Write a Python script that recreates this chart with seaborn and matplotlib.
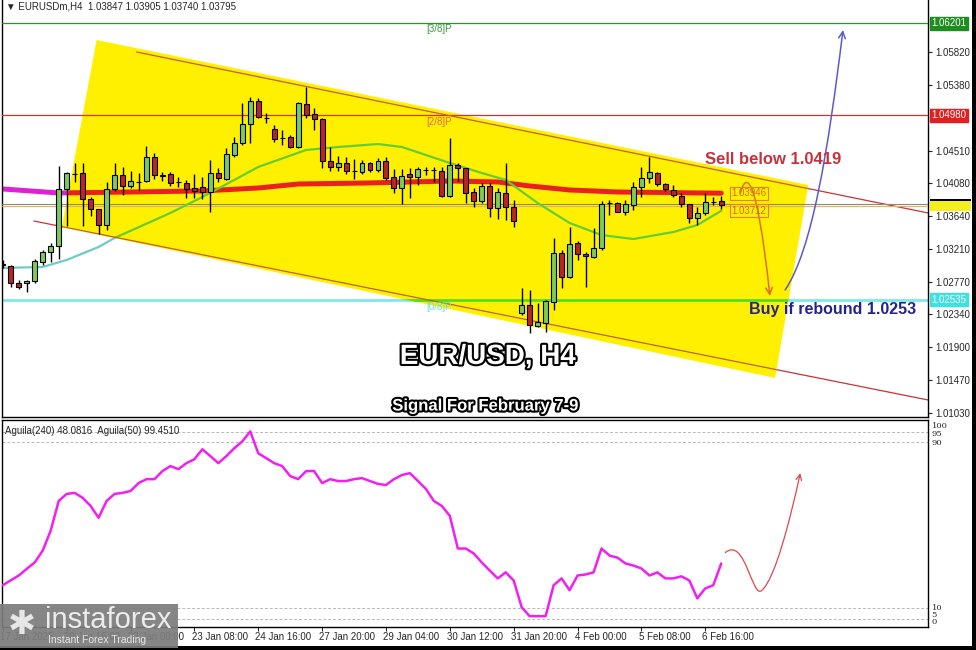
import numpy as np
import pandas as pd
import matplotlib
matplotlib.use("Agg")
import matplotlib.pyplot as plt
import matplotlib.patheffects as pe
from matplotlib.path import Path
from matplotlib.patches import FancyArrowPatch, Polygon, Rectangle
import seaborn as sns

# ---- candles (H4 bars, index 0..90) ----
opens = [1.02994, 1.02980, 1.02755, 1.02755, 1.02781, 1.03033, 1.03166, 1.03246, 1.04002, 1.04201,
         1.04214, 1.03870, 1.03737, 1.03524, 1.04002, 1.04188, 1.04042, 1.04095, 1.04108, 1.04427,
         1.04188, 1.04201, 1.04095, 1.04082, 1.04015, 1.04029, 1.03962, 1.04214, 1.04135, 1.04453,
         1.04612, 1.04865, 1.05170, 1.04944, 1.04798, 1.04679, 1.04692, 1.04559, 1.05130, 1.04997,
         1.04931, 1.04373, 1.04294, 1.04347, 1.04241, 1.04228, 1.04347, 1.04254, 1.04373, 1.04161,
         1.04015, 1.04201, 1.04161, 1.04254, 1.04254, 1.04241, 1.03909, 1.04320, 1.04281, 1.03962,
         1.03843, 1.04042, 1.03750, 1.03949, 1.03763, 1.02357, 1.02463, 1.02184, 1.02224, 1.02503,
         1.03153, 1.02834, 1.03285, 1.03140, 1.03100, 1.03219, 1.03816, 1.03816, 1.03697, 1.03790,
         1.04029, 1.04148, 1.04214, 1.04068, 1.03989, 1.03909, 1.03803, 1.03617, 1.03684, 1.03830,
         1.03847]
highs = [1.03060, 1.02994, 1.02794, 1.02794, 1.03073, 1.03193, 1.03285, 1.04307, 1.04228, 1.04347,
         1.04347, 1.03896, 1.03737, 1.04095, 1.04347, 1.04294, 1.04241, 1.04214, 1.04573, 1.04480,
         1.04228, 1.04228, 1.04161, 1.04122, 1.04201, 1.04161, 1.04387, 1.04281, 1.04546, 1.04692,
         1.05143, 1.05223, 1.05210, 1.05010, 1.04851, 1.04785, 1.04719, 1.05156, 1.05356, 1.05077,
         1.04944, 1.04559, 1.04440, 1.04427, 1.04400, 1.04387, 1.04360, 1.04413, 1.04427, 1.04267,
         1.04267, 1.04281, 1.04294, 1.04294, 1.04294, 1.04294, 1.04679, 1.04347, 1.04281, 1.04015,
         1.04082, 1.04082, 1.04015, 1.04347, 1.03856, 1.02688, 1.02662, 1.02489, 1.02529, 1.03352,
         1.03193, 1.03498, 1.03312, 1.03166, 1.03484, 1.03843, 1.03856, 1.03830, 1.03856, 1.04095,
         1.04294, 1.04427, 1.04228, 1.04082, 1.04055, 1.03949, 1.03803, 1.03763, 1.03949, 1.03896,
         1.03905]
lows = [1.02955, 1.02701, 1.02675, 1.02635, 1.02755, 1.02994, 1.03033, 1.03073, 1.03511, 1.04095,
        1.03511, 1.03644, 1.03405, 1.03458, 1.03976, 1.03923, 1.04015, 1.03989, 1.04095, 1.04135,
        1.04108, 1.04042, 1.04029, 1.03883, 1.03883, 1.03870, 1.03697, 1.04095, 1.04122, 1.04427,
        1.04586, 1.04612, 1.04944, 1.04878, 1.04626, 1.04586, 1.04546, 1.04546, 1.04944, 1.04785,
        1.04281, 1.04241, 1.04241, 1.04201, 1.04135, 1.04201, 1.04228, 1.04228, 1.04122, 1.03949,
        1.03803, 1.03883, 1.04055, 1.04188, 1.04095, 1.03896, 1.03896, 1.04108, 1.03816, 1.03763,
        1.03816, 1.03630, 1.03604, 1.03591, 1.03498, 1.02330, 1.02091, 1.02171, 1.02104, 1.02396,
        1.02688, 1.02821, 1.03060, 1.02701, 1.03086, 1.03193, 1.03657, 1.03690, 1.03657, 1.03723,
        1.03896, 1.04082, 1.04042, 1.03976, 1.03896, 1.03763, 1.03551, 1.03524, 1.03657, 1.03790,
        1.03740]
closes = [1.03000, 1.02755, 1.02701, 1.02781, 1.03047, 1.03166, 1.03246, 1.04002, 1.04214, 1.04195,
          1.03870, 1.03737, 1.03524, 1.04002, 1.04188, 1.04042, 1.04108, 1.04100, 1.04427, 1.04188,
          1.04180, 1.04082, 1.04090, 1.04002, 1.03976, 1.03962, 1.04214, 1.04148, 1.04466, 1.04612,
          1.04865, 1.05170, 1.04957, 1.04940, 1.04666, 1.04675, 1.04559, 1.05143, 1.04984, 1.04931,
          1.04373, 1.04294, 1.04347, 1.04241, 1.04235, 1.04347, 1.04254, 1.04373, 1.04148, 1.04015,
          1.04175, 1.04161, 1.04267, 1.04250, 1.04258, 1.03909, 1.04320, 1.04281, 1.03949, 1.03843,
          1.04042, 1.03750, 1.03962, 1.03763, 1.03577, 1.02463, 1.02197, 1.02237, 1.02516, 1.03153,
          1.02834, 1.03272, 1.03140, 1.03113, 1.03219, 1.03803, 1.03810, 1.03697, 1.03803, 1.04029,
          1.04148, 1.04228, 1.04068, 1.04002, 1.03923, 1.03803, 1.03617, 1.03684, 1.03830, 1.03835,
          1.03795]
bars = list(range(len(opens)))

# moving averages (bar index, price)
slow_ma_bars = [0, 7, 16, 25, 32, 37, 46, 56, 62, 66, 71, 77, 90]
slow_ma = [1.04002, 1.03949, 1.03962, 1.03976, 1.04015, 1.04068, 1.04082, 1.04108, 1.04095,
           1.04042, 1.03989, 1.03962, 1.03946]
fast_ma_bars = [0, 5, 8, 12, 14, 21, 25, 29, 32, 38, 42, 47, 50, 56, 60, 63, 67, 71, 75, 79, 84, 87, 90]
fast_ma = [1.02954, 1.02967, 1.03060, 1.03232, 1.03352, 1.03684, 1.03896, 1.04122, 1.04294,
           1.04520, 1.04559, 1.04599, 1.04559, 1.04347, 1.04214, 1.04122, 1.03816, 1.03551,
           1.03391, 1.03338, 1.03431, 1.03524, 1.03712]

# Aguila oscillator
aguila = [21.1, 23.5, 25.8, 29.0, 32.1, 37.8, 47.4, 61.7, 65.1, 65.6,
          63.2, 59.3, 53.6, 61.7, 65.1, 65.6, 66.5, 70.3, 72.2, 72.2,
          76.1, 78.5, 77.0, 79.9, 81.8, 86.6, 83.3, 79.9, 83.3, 87.1,
          90.4, 95.2, 84.7, 82.3, 79.9, 78.5, 73.7, 72.2, 76.1, 76.1,
          70.3, 72.2, 71.3, 71.3, 72.2, 72.7, 71.3, 69.9, 69.4, 72.2,
          74.2, 75.1, 71.3, 67.5, 61.7, 59.3, 54.5, 38.8, 38.8, 36.4,
          32.1, 28.2, 24.4, 27.3, 23.4, 10.5, 6.2, 6.2, 6.2, 21.1,
          24.4, 18.7, 25.8, 26.3, 27.3, 38.8, 35.4, 34.4, 31.6, 30.6,
          29.2, 25.8, 27.3, 24.4, 24.4, 25.4, 23.4, 14.8, 19.6, 21.1,
          31.6]
aguila_levels = [95, 90, 10, 5]

# channel and levels
channel_fill_bars = [11.75, 100.9, 96.75, 7.4]
channel_fill_prices = [1.05979, 1.04055, 1.01494, 1.03498]
upper_line_bars = [16.75, 115.9]
upper_line_prices = [1.05820, 1.03684]
lower_line_bars = [3.9, 115.9]
lower_line_prices = [1.03577, 1.01202]
level_38 = 1.06201
level_28 = 1.04980
level_08 = 1.02535
last_price = 1.03795

price_ticks = [1.05820, 1.05380, 1.04510, 1.04080, 1.03640, 1.03210, 1.02770,
               1.02340, 1.01900, 1.01470, 1.01030]
time_ticks = [0, 8, 16, 24, 32, 40, 48, 56, 64, 72, 80, 88]
time_labels = ["17 Jan 2025", "20 Jan 16:00", "22 Jan 00:00", "23 Jan 08:00", "24 Jan 16:00",
               "27 Jan 20:00", "29 Jan 04:00", "30 Jan 12:00", "31 Jan 20:00", "4 Feb 00:00",
               "5 Feb 08:00", "6 Feb 16:00"]

sns.set_style("white")
plt.rcParams['font.family'] = ['Liberation Sans', 'DejaVu Sans']

W, H = 976, 650
fig = plt.figure(figsize=(W / 100, H / 100), dpi=100)
ax = fig.add_axes([2 / W, (H - 417) / H, 926 / W, 417 / H])
ax2 = fig.add_axes([2 / W, (H - 627) / H, 926 / W, (627 - 420) / H])

ax.set_xlim(-0.1, 115.9)
ax.set_ylim(1.00976, 1.06510)
ax2.set_xlim(-0.1, 115.9)
ax2.set_ylim(1.0, 100.7)

# yellow channel area (added first so it can clip the lines)
chan = Polygon(list(zip(channel_fill_bars, channel_fill_prices)), closed=True,
               facecolor="#fff000", edgecolor="none", zorder=2)
ax.add_patch(chan)

def two_tone(xs, ys, outside, inside, lw):
    # line colour changes where it crosses the yellow area
    sns.lineplot(x=xs, y=ys, ax=ax, color=outside, linewidth=lw, zorder=1.5, sort=False)
    sns.lineplot(x=xs, y=ys, ax=ax, color=inside, linewidth=lw, zorder=4, sort=False)
    ax.lines[-1].set_clip_path(chan)

two_tone(slow_ma_bars, slow_ma, "#e020d8", "#e82020", 3.6)
two_tone(fast_ma_bars, fast_ma, "#6cccc8", "#66cc33", 1.6)

x_full = [-0.1, 115.9]
two_tone(x_full, [level_08] * 2, "#80e8e8", "#55dd22", 2.0)
ax.axhline(level_38, color="#2f8f2f", lw=0.9, zorder=3)
ax.axhline(level_28, color="#d83030", lw=0.9, zorder=3)
ax.axhline(1.03803, color="#8a8a70", lw=0.8, zorder=3)
ax.axhline(1.03776, color="#e8b060", lw=0.8, zorder=3)
two_tone(upper_line_bars, upper_line_prices, "#cc3333", "#c06020", 0.9)
two_tone(lower_line_bars, lower_line_prices, "#cc3333", "#c06020", 0.9)

# candles
df = pd.DataFrame({"bar": bars, "open": opens, "high": highs, "low": lows, "close": closes})
up = df["close"] >= df["open"]
ax.vlines(df["bar"], df["low"], df["high"], color="black", lw=1.0, zorder=6)
body_low = np.minimum(df["open"], df["close"])
body_h = np.maximum((df["close"] - df["open"]).abs(), 0.00002)
ax.bar(df["bar"], body_h, bottom=body_low, width=0.62,
       color=np.where(up, "#7ccc5c", "#b8262a"), edgecolor="black", linewidth=0.8, zorder=7)

# arrows
orange_path = Path([(92.4, 1.03949), (93.1, 1.04228), (94.4, 1.04228), (96.1, 1.02582)],
                   [Path.MOVETO, Path.CURVE4, Path.CURVE4, Path.CURVE4])
ax.add_patch(FancyArrowPatch(path=orange_path, arrowstyle="->", mutation_scale=12,
                             color="#e07020", lw=1.1, zorder=8))
blue_path = Path([(98.0, 1.02662), (101.4, 1.03193), (103.4, 1.04520), (105.25, 1.06112)],
                 [Path.MOVETO, Path.CURVE4, Path.CURVE4, Path.CURVE4])
ax.add_patch(FancyArrowPatch(path=blue_path, arrowstyle="->", mutation_scale=12,
                             color="#5a5ad0", lw=1.1, zorder=8))

# text on chart
ax.text(88, 1.04387, "Sell below 1.0419", fontsize=12, fontweight="bold", color="#c8323c",
        ha="left", va="center", zorder=9)
ax.text(93.5, 1.02396, "Buy if rebound 1.0253", fontsize=11.5, fontweight="bold",
        color="#23238e", ha="left", va="center", zorder=9)
outline = [pe.withStroke(linewidth=3, foreground="black")]
ax.text(60.75, 1.01773, "EUR/USD, H4", fontsize=20, fontweight="bold", color="white",
        ha="center", va="center", zorder=9, path_effects=outline)
ax.text(60.4, 1.01122, "Signal For February 7-9", fontsize=12, fontweight="bold", color="white",
        ha="center", va="center", zorder=9, path_effects=outline)
ax.text(53, 1.06125, "[3/8]P", fontsize=7, color="#3a9a3a", ha="left", va="center", zorder=9)
ax.text(53, 1.04891, "[2/8]P", fontsize=7, color="#e07030", ha="left", va="center", zorder=9)
ax.text(53, 1.02436, "[0/8]P", fontsize=7, color="#66dddd", ha="left", va="center", zorder=9)
for val in [1.03946, 1.03712]:
    ax.text(91.3, val, f"{val:.5f}", fontsize=7, color="#d2691e", ha="left", va="center", zorder=9,
            bbox=dict(boxstyle="square,pad=0.15", fc="none", ec="#e8801e", lw=0.8))

ax.text(0.004, 0.985, "\u25bc EURUSDm,H4  1.03847 1.03905 1.03740 1.03795", transform=ax.transAxes,
        fontsize=7, ha="left", va="center", zorder=9)

# right price scale
ax.yaxis.tick_right()
ax.set_yticks(price_ticks)
ax.set_yticklabels([f"{p:.5f}" for p in price_ticks])
ax.tick_params(axis="y", direction="out", length=3, width=0.8, labelsize=7, pad=2, right=True)
ax.set_xticks([])
yt = ax.get_yaxis_transform()
for val, bg in [(level_38, "#1e8c1e"), (level_28, "#e02020"), (level_08, "#40e0e0")]:
    ax.text(1.004, val, f"{val:.5f}", transform=yt, fontsize=7, color="white", ha="left",
            va="center", clip_on=False, zorder=10,
            bbox=dict(boxstyle="square,pad=0.15", fc=bg, ec=bg))
ax.add_patch(Rectangle((1.002, 1.03712), 0.044, 0.00128, transform=yt, clip_on=False,
                       facecolor="#f4ee20", edgecolor="none", zorder=10))
ax.add_patch(Rectangle((1.002, 1.03840), 0.044, 0.00028, transform=yt, clip_on=False,
                       facecolor="black", edgecolor="none", zorder=10))

for side in ["left", "right", "bottom"]:
    ax.spines[side].set_color("black")
    ax.spines[side].set_linewidth(1)
ax.spines["top"].set_visible(False)

# indicator panel
sns.lineplot(x=bars, y=aguila, ax=ax2, color="#f020f0", linewidth=1.8, zorder=4)
for lv in aguila_levels:
    ax2.axhline(lv, color="#b8b8b8", lw=0.7, ls=(0, (3, 2)), zorder=2)
red_path = Path([(90.5, 36.8), (93.0, 45.0), (93.9, 13.9), (95.1, 18.7),
                 (96.75, 24.4), (98.6, 52.2), (99.9, 75.1)],
                [Path.MOVETO, Path.CURVE4, Path.CURVE4, Path.CURVE4,
                 Path.CURVE4, Path.CURVE4, Path.CURVE4])
ax2.add_patch(FancyArrowPatch(path=red_path, arrowstyle="->", mutation_scale=10,
                              color="#e04848", lw=0.9, zorder=5))
ax2.text(0.003, 0.945, "Aguila(240) 48.0816  Aguila(50) 99.4510", transform=ax2.transAxes,
         fontsize=7, ha="left", va="center")
yt2 = ax2.get_yaxis_transform()
for lab, v in [("100", 97.6), ("95", 94.0), ("90", 89.6), ("10", 10.0), ("5", 6.6), ("0", 3.6)]:
    ax2.text(1.004, v, lab, transform=yt2, fontsize=6, ha="left", va="center", clip_on=False,
             family="DejaVu Serif")
ax2.set_yticks([])
ax2.set_xticks(time_ticks)
ax2.set_xticklabels([""] * len(time_ticks))
ax2.tick_params(axis="x", direction="out", length=3, width=0.8, bottom=True)
xt2 = ax2.get_xaxis_transform()
for t, lab in zip(time_ticks, time_labels):
    ax2.text(t - 0.35, -0.05, lab, transform=xt2, fontsize=7, ha="left", va="center",
             clip_on=False)
ax2.set_xlabel("")
ax2.set_ylabel("")
ax.set_xlabel("")
ax.set_ylabel("")
for side in ["left", "right", "bottom", "top"]:
    ax2.spines[side].set_color("black")
    ax2.spines[side].set_linewidth(1)

# screenshot frame
fig.add_artist(Rectangle((972 / W, 0), 4 / W, 1, transform=fig.transFigure,
                         facecolor="black", edgecolor="none"))
fig.add_artist(Rectangle((0, 0), 1, 4 / H, transform=fig.transFigure,
                         facecolor="black", edgecolor="none"))

# watermark logo
fig.add_artist(Rectangle((0, 2 / H), 178 / W, 44 / H, transform=fig.transFigure,
                         facecolor="#7c7c7c", edgecolor="none", alpha=0.92, zorder=20))
fig.text(22 / W, 1 - 624 / H, "\u2731", fontsize=24, color="#e6e6e6", ha="center", va="center",
         family="DejaVu Sans", zorder=21)
fig.text(45 / W, 1 - 620 / H, "instaforex", fontsize=21, color="#ececec", ha="left",
         va="center", zorder=21)
fig.text(48 / W, 1 - 640 / H, "Instant Forex Trading", fontsize=7.5, color="#e6e6e6",
         ha="left", va="center", zorder=21)

fig.savefig("out.png", dpi=100, facecolor="white")
